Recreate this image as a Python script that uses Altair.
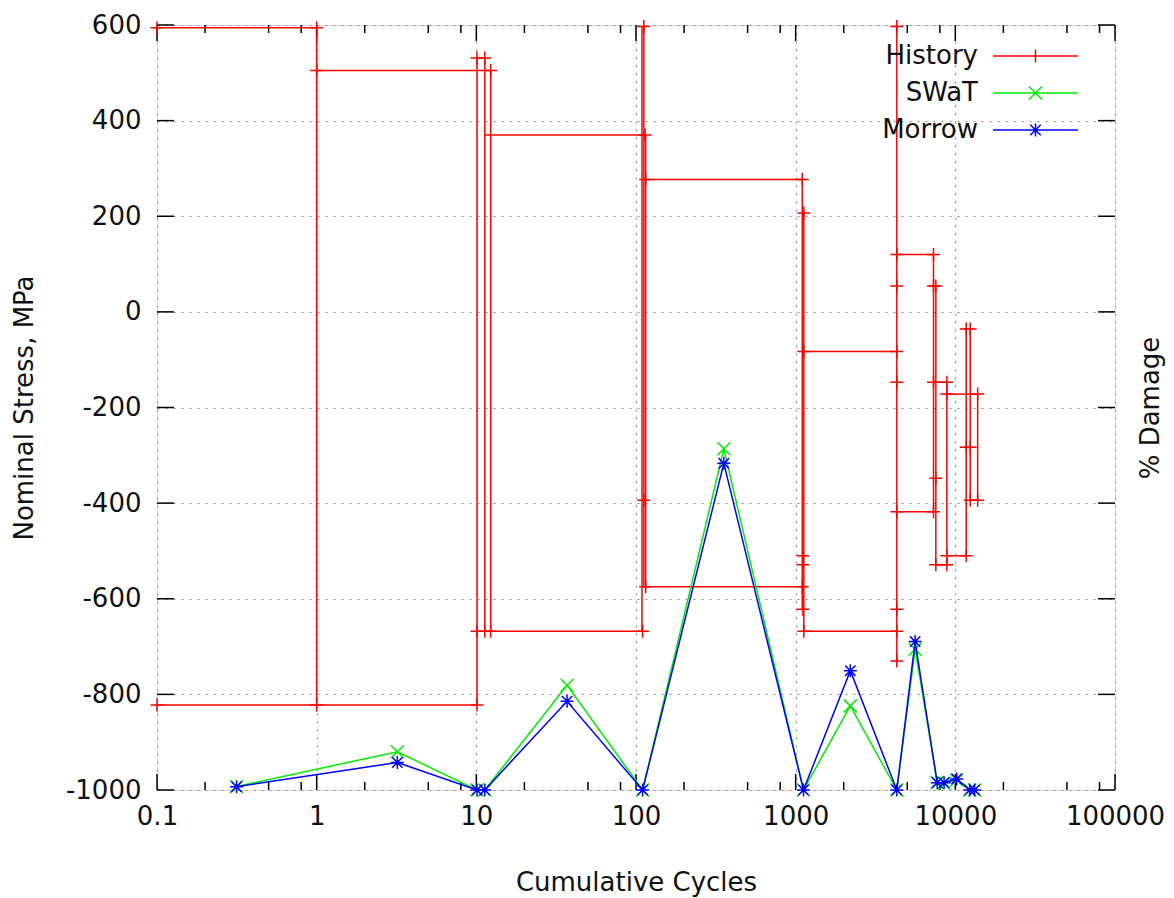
import altair as alt
import pandas as pd

# ---------------- data ----------------
# History: horizontal segments (stress held between two cumulative cycle counts)
hist_h_stress = [594, -822, 505, 370, -668, 277, -575, -83, -668, 120, -418, -147, -529, -172, -510, -394]
hist_h_from = [0.1, 0.1, 1, 11.3, 10.1, 115, 112, 1125, 1125, 4300, 4300, 7300, 7550, 8850, 8850, 12400]
hist_h_to = [1, 10.1, 12.3, 114, 110, 1100, 1100, 4300, 4300, 7300, 7300, 8850, 8850, 13800, 11700, 13800]
# History: vertical segments (stress range at one cumulative cycle count)
hist_v_cycles = [1, 10.1, 11.3, 12.3, 109, 112, 115, 1100, 1125, 4300, 7300, 7550, 8850, 11700, 12400, 13800]
hist_v_top = [594, 531, 531, 505, 597, 597, 370, 277, 207, 597, 120, 54, -147, -36, -36, -172]
hist_v_bottom = [-822, -822, -668, -668, -668, -575, -575, -622, -668, -730, -418, -529, -529, -510, -394, -394]
# History: '+' points
hist_pt_cycles = [0.1, 1, 1, 1, 0.1,
                  10.1, 11.3, 12.3, 10.1, 10.1, 11.3, 12.3,
                  112, 114, 115, 112, 115, 110,
                  1100, 1125, 1125, 1110, 1110, 1100, 1110, 1125,
                  4300, 4300, 4300, 4300, 4300, 4300, 4300, 4300, 4300,
                  7300, 7300, 7550, 7300, 7550, 7300, 7550,
                  8850, 8850, 8850, 8850,
                  11700, 12400, 11700, 12400, 12400, 11700,
                  13800, 13800]
hist_pt_stress = [594, 594, 505, -822, -822,
                  531, 531, 505, -822, -668, -668, -668,
                  597, 370, 277, -394, -575, -668,
                  277, 207, -83, -510, -529, -575, -622, -668,
                  597, 120, 54, -83, -147, -418, -622, -668, -730,
                  120, 54, 54, -147, -348, -418, -529,
                  -147, -172, -510, -529,
                  -36, -36, -283, -283, -394, -510,
                  -172, -394]

# Damage (% , right axis)
dmg_cycles = [0.315, 3.2, 10.1, 11.3, 37, 110, 355, 1120, 2200, 4300, 5600, 7700, 8500, 10200, 12300, 13200]
swat_damage = [0.45, 5.0, 0, 0, 13.7, 0, 44.6, 0, 11.0, 0, 18.4, 1.0, 0.9, 1.3, 0, 0]
morrow_damage = [0.43, 3.6, 0, 0, 11.6, 0, 42.7, 0, 15.6, 0, 19.4, 0.95, 0.95, 1.45, 0, 0]

series_names = ["History", "SWaT", "Morrow"]
series_colors = ["#ff0000", "#00ee00", "#0000ff"]

x_major_ticks = [0.1, 1, 10, 100, 1000, 10000, 100000]
x_minor_mult = [2, 5, 8]
y_ticks = [-1000, -800, -600, -400, -200, 0, 200, 400, 600]

# ---------------- styling ----------------
FONT = "DejaVu Sans"
TXT = "#111111"
GRID = "#8c8c8c"
W, H = 958, 765
XMIN_D, XMAX_D = 0.1, 100000
YMIN_D, YMAX_D = -1000, 600
LW = 1.5
R = 6.5  # marker half size in px (size = (2R)^2)

PLUS = "M-1,0L1,0M0,-1L0,1"
XCROSS = "M-1,-1L1,1M-1,1L1,-1"
STAR = "M-1,0L1,0M0,-1L0,1M-0.8,-0.8L0.8,0.8M-0.8,0.8L0.8,-0.8"

# legend samples: line drawn to the right of the (right-aligned) label
LS, LE = 28 / R, 113 / R      # line start / end, in marker units from symbol centre
LM = (LS + LE) / 2            # marker position
def _shift(path, dx):
    out, tok = [], path.replace("M", " M ").replace("L", " L ").split()
    i = 0
    while i < len(tok):
        if tok[i] in ("M", "L"):
            xv, yv = tok[i + 1].split(",")
            out.append(f"{tok[i]}{float(xv) + dx:.3f},{yv}")
            i += 2
        else:
            i += 1
    return "".join(out)
legend_paths = [f"M{LS:.3f},0L{LE:.3f},0" + _shift(p, LM) for p in (PLUS, XCROSS, STAR)]

xs = alt.Scale(type="log", domain=[XMIN_D, XMAX_D], nice=False)
ys = alt.Scale(domain=[YMIN_D, YMAX_D], nice=False, zero=False)
ds = alt.Scale(domain=[0, 100], nice=False, zero=False)

x_axis = alt.Axis(values=x_major_ticks, labelExpr="'' + datum.value", grid=True, gridColor=GRID,
                  gridDash=[2, 6], gridWidth=1.2, domain=False, ticks=False, tickSize=0,
                  labelFont=FONT, labelFontSize=26, labelColor=TXT, labelPadding=13,
                  labelFlush=False, labelOverlap=False, title="Cumulative Cycles", titleFont=FONT,
                  titleFontSize=26, titleFontWeight="normal", titleColor=TXT, titlePadding=40)
y_axis = alt.Axis(values=y_ticks, labelExpr="'' + datum.value", grid=True, gridColor=GRID,
                  gridDash=[2, 6], gridWidth=1.2, domain=False, ticks=False, tickSize=0,
                  labelFont=FONT, labelFontSize=26, labelColor=TXT, labelPadding=16,
                  labelFlush=False, labelOverlap=False, title="Nominal Stress, MPa", titleFont=FONT,
                  titleFontSize=26, titleFontWeight="normal", titleColor=TXT, titlePadding=28)
d_axis = alt.Axis(orient="right", labels=False, ticks=False, tickSize=0, domain=False, grid=False,
                  title="% Damage", titleFont=FONT, titleFontSize=26, titleFontWeight="normal",
                  titleColor=TXT, titleAngle=270, titleBaseline="top", titlePadding=22)

# ---------------- frames ----------------
seg_df = pd.DataFrame({
    "N": hist_h_from + hist_v_cycles,
    "N2": hist_h_to + hist_v_cycles,
    "S": hist_h_stress + hist_v_top,
    "S2": hist_h_stress + hist_v_bottom,
})
pt_df = pd.DataFrame({"N": hist_pt_cycles, "S": hist_pt_stress})
dmg_df = pd.DataFrame({"N": dmg_cycles, "swat": swat_damage, "morrow": morrow_damage})

ppd = W / 6.0
pps = H / float(YMAX_D - YMIN_D)
XMAJ_PX, XMIN_PX, YMAJ_PX = 16, 8, 17
rows = []
for v in x_major_ticks:
    rows += [(v, v, YMIN_D, YMIN_D + XMAJ_PX / pps), (v, v, YMAX_D, YMAX_D - XMAJ_PX / pps)]
for d in x_major_ticks[:-1]:
    for m in x_minor_mult:
        v = d * m
        rows += [(v, v, YMIN_D, YMIN_D + XMIN_PX / pps), (v, v, YMAX_D, YMAX_D - XMIN_PX / pps)]
f = 10 ** (YMAJ_PX / ppd)
for v in y_ticks:
    rows += [(XMIN_D, XMIN_D * f, v, v), (XMAX_D, XMAX_D / f, v, v)]
tick_df = pd.DataFrame(rows, columns=["N", "N2", "S", "S2"])

leg_df = pd.DataFrame({"series": series_names, "N": [1, 1, 1], "S": [0, 0, 0]})

# ---------------- layers ----------------
X = alt.X("N:Q", scale=xs, axis=x_axis)
Y = alt.Y("S:Q", scale=ys, axis=y_axis)

ticks = alt.Chart(tick_df).mark_rule(color="black", strokeWidth=1.5).encode(
    x=X, x2="N2:Q", y=Y, y2="S2:Q")

hist_lines = alt.Chart(seg_df).mark_rule(color=series_colors[0], strokeWidth=LW).encode(
    x=X, x2="N2:Q", y=Y, y2="S2:Q")

hist_pts = alt.Chart(pt_df).mark_point(shape=PLUS, size=(2 * R) ** 2, filled=False,
                                       color=series_colors[0], strokeWidth=LW, opacity=1).encode(x=X, y=Y)

LEG = alt.Legend(title=None, orient="none", legendX=795, legendY=18, labelFont=FONT,
                 labelFontSize=26, labelColor=TXT, labelAlign="right", labelOffset=0,
                 symbolOffset=0, symbolSize=(2 * R) ** 2, symbolStrokeWidth=LW, rowPadding=11,
                 labelLimit=400)
legend = alt.Chart(leg_df).transform_filter("false").mark_point(filled=False, strokeWidth=LW, opacity=1).encode(
    x=X, y=Y,
    color=alt.Color("series:N", scale=alt.Scale(domain=series_names, range=series_colors), legend=LEG),
    shape=alt.Shape("series:N", scale=alt.Scale(domain=series_names, range=legend_paths), legend=LEG),
)

stress_layer = alt.layer(ticks, hist_lines, hist_pts, legend)

DY_S = alt.Y("swat:Q", scale=ds, axis=d_axis)
DY_M = alt.Y("morrow:Q", scale=ds, axis=d_axis)
swat_line = alt.Chart(dmg_df).mark_line(color=series_colors[1], strokeWidth=LW).encode(x=X, y=DY_S)
swat_pts = alt.Chart(dmg_df).mark_point(shape=XCROSS, size=(2 * R) ** 2, filled=False,
                                        color=series_colors[1], strokeWidth=LW, opacity=1).encode(x=X, y=DY_S)
mor_line = alt.Chart(dmg_df).mark_line(color=series_colors[2], strokeWidth=LW).encode(x=X, y=DY_M)
mor_pts = alt.Chart(dmg_df).mark_point(shape=STAR, size=(2 * R) ** 2, filled=False,
                                       color=series_colors[2], strokeWidth=LW, opacity=1).encode(x=X, y=DY_M)
damage_layer = alt.layer(swat_line, swat_pts, mor_line, mor_pts)

chart = alt.layer(stress_layer, damage_layer).resolve_scale(y="independent").properties(
    width=W, height=H,
    autosize=alt.AutoSizeParams(type="none"),
    padding={"left": 149, "top": 17, "right": 51, "bottom": 107},
).configure_view(stroke="black", strokeWidth=1.8).configure(background="white")

chart.save("out.html", embed_options={"renderer": "svg", "actions": False})
